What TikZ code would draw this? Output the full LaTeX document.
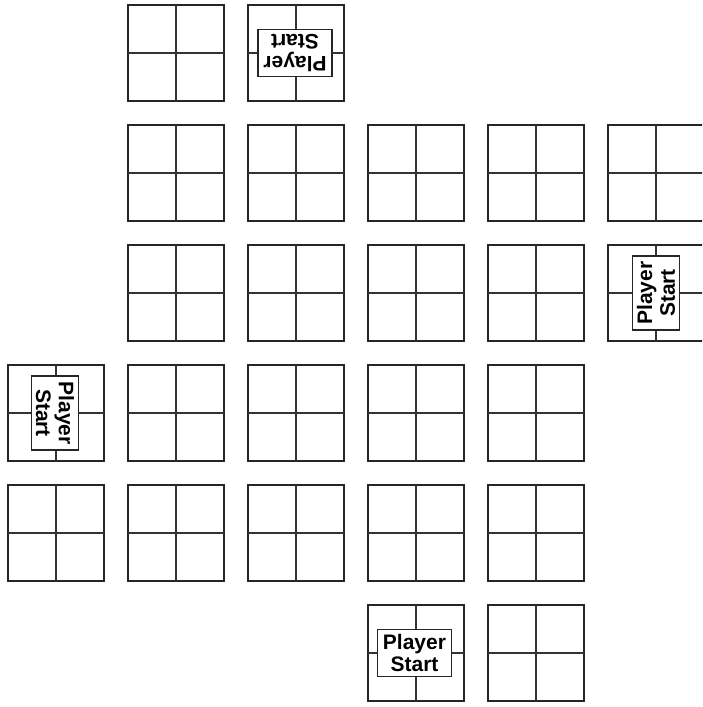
\documentclass[tikz,border=0pt]{standalone}
\usepackage{fontspec}
\setmainfont{Liberation Sans}
\begin{document}
\begin{tikzpicture}[x=1pt,y=1pt,
  tile/.style={draw=black!85, line width=1.3pt, minimum size=96pt, inner sep=0pt, outer sep=0pt},
  gridline/.style={draw=black!80, line width=1.3pt},
  start/.style={draw=black!85, fill=white, line width=1.3pt, minimum width=74pt, minimum height=47pt, inner sep=0pt, align=center, font=\fontsize{21}{22.7}\selectfont\bfseries}]
\useasboundingbox (0,0) rectangle (702,-707);
\clip (0,0) rectangle (702,-707);
\foreach \c/\r in {1/0,2/0,
                   1/1,2/1,3/1,4/1,5/1,
                   1/2,2/2,3/2,4/2,5/2,
                   0/3,1/3,2/3,3/3,4/3,
                   0/4,1/4,2/4,3/4,4/4,
                   3/5,4/5} {
  \node[tile] (t\c\r) at ({56+120*\c},{-53-120*\r}) {};
  \draw[gridline] (t\c\r.north) -- (t\c\r.south);
  \draw[gridline] (t\c\r.west) -- (t\c\r.east);
}
\node[start, rotate=180] (pA) at ([xshift=-1pt]t20) {Player\\Start};
\node[start, rotate=90] (pB) at (t52) {Player\\Start};
\node[start, rotate=-90] (pC) at ([xshift=-1pt]t03) {Player\\Start};
\node[start] (pD) at ([xshift=-1.5pt]t35) {Player\\Start};
\end{tikzpicture}
\end{document}
